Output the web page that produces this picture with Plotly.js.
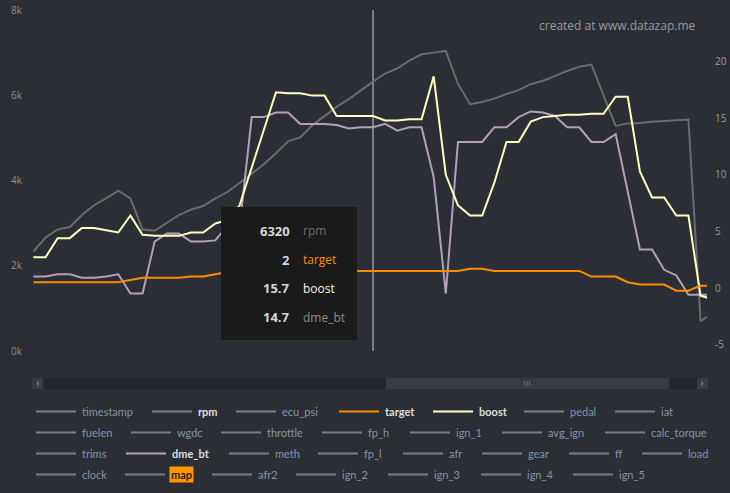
<!DOCTYPE html>
<html>
<head>
<meta charset="utf-8">
<script src="https://cdn.plot.ly/plotly-3.0.1.min.js"></script>
<style>
  html, body { margin: 0; padding: 0; background: #2c2e35; }
  #chart { width: 730px; height: 493px; }
</style>
</head>
<body>
<div id="chart"></div>
<script>
// Log samples (one per logged row)
const sampleTime = [0,1,2,3,4,5,6,7,8,9,10,11,12,13,14,15,16,17,18,19,20,21,22,23,24,25,26,27,28,
  29,30,31,32,33,34,35,36,37,38,39,40,41,42,43,44,45,46,47,48,49,50,51,52,53,54,55,56];

// Engine speed (left axis)
const rpm = [2330,2660,2850,2910,3190,3420,3580,3760,3580,2850,2820,3010,3190,3320,3400,3580,3730,3940,4150,4380,
  4640,4920,5010,5300,5510,5730,5910,6120,6320,6510,6630,6810,6960,7000,7040,6270,5790,5840,5920,6030,
  6120,6260,6340,6450,6570,6670,6720,6000,5280,5340,5350,5380,5400,5420,5430,700,890];

// Pressures (right axis, psi)
const target = [1.0,1.0,1.0,1.0,1.0,1.0,1.0,1.0,1.2,1.4,1.4,1.4,1.4,1.5,1.5,1.7,1.9,2.0,2.0,2.0,
  2.0,2.0,2.0,2.0,2.0,2.0,2.0,2.0,2,2.0,2.0,2.0,2.0,2.0,2.0,2.0,2.2,2.2,2.0,2.0,
  2.0,2.0,2.0,2.0,2.0,2.0,1.5,1.5,1.5,1.0,0.8,0.8,0.8,0.25,0.25,0.7,0.7];
const boost = [3.2,3.2,4.9,4.9,5.8,5.8,5.6,5.4,6.9,5.2,5.1,5.1,5.1,5.4,5.4,6.2,6.5,7.8,11.1,14.5,
  17.8,17.7,17.7,17.5,17.5,15.7,15.7,15.7,15.7,15.3,15.3,15.4,15.4,19.2,10.5,7.8,6.9,6.9,9.8,13.4,
  13.4,15.2,15.6,15.7,15.8,15.8,15.9,15.9,17.4,17.4,10.8,8.5,8.5,6.9,6.9,-0.2,-0.5];
const dme_bt = [1.5,1.5,1.7,1.7,1.4,1.4,1.5,1.7,0,0,4.6,5.3,5.3,4.6,4.6,4.7,6.0,5.9,15.6,15.6,
  16.0,16.0,15.0,15.0,15.0,14.9,14.6,14.7,14.7,15.0,14.4,14.7,14.7,10.3,0,13.4,13.4,13.4,14.7,14.7,
  15.6,16.1,16.0,15.7,14.7,14.7,13.4,13.4,14.1,8.9,3.9,3.9,2.1,1.6,-0.1,-0.1,-0.1];

// Axis ticks
const leftTickVals = [0, 2000, 4000, 6000, 8000];
const leftTickText = ['0k', '2k', '4k', '6k', '8k'];
const rightTickVals = [-5, 0, 5, 10, 15, 20];

// Legend entries, row by row
const legendRows = [
  ['timestamp','rpm','ecu_psi','target','boost','pedal','iat'],
  ['fuelen','wgdc','throttle','fp_h','ign_1','avg_ign','calc_torque'],
  ['trims','dme_bt','meth','fp_l','afr','gear','ff','load'],
  ['clock','map','afr2','ign_2','ign_3','ign_4','ign_5']
];

// Crosshair sample
const hoverIndex = 28;

// ---- styling / layout ----
const BG = '#2c2e35';
const colors = { rpm: '#6c6c6c', target: '#ff8c00', boost: '#ffffc4', dme_bt: '#b59fba' };
const FONT = 'Open Sans, Noto Sans, sans-serif';
const LEGEND_FONT = 'Lato, Open Sans, sans-serif';

const W = 730, H = 493;
const L = 33, R = 707, T = 10, B = 351;
const px = x => (x - L) / (R - L);
const py = y => (B - y) / (B - T);

// right axis: labels sit a few pixels above their value
const rightRange = [-5.08, 25.07];
const rightLabelLift = 5.5 * (rightRange[1] - rightRange[0]) / (B - T);

const legendStarts = [
  [36,152,236,339,433,524,615],
  [36,131,221,322,410,502,605],
  [36,126,229,318,403,482,569,642],
  [36,125,212,296,388,481,573]
];
const legendRowY = [411.5, 432.5, 453.5, 474.5];

const traces = [
  { name: 'rpm', x: sampleTime, y: rpm, yaxis: 'y', mode: 'lines',
    line: { color: colors.rpm, width: 2 } },
  { name: 'dme_bt', x: sampleTime, y: dme_bt, yaxis: 'y2', mode: 'lines',
    line: { color: colors.dme_bt, width: 2 } },
  { name: 'boost', x: sampleTime, y: boost, yaxis: 'y2', mode: 'lines',
    line: { color: colors.boost, width: 2 } },
  { name: 'target', x: sampleTime, y: target, yaxis: 'y2', mode: 'lines',
    line: { color: colors.target, width: 2 } }
];

const shapes = [];
const annotations = [];

// crosshair
shapes.push({ type: 'line', xref: 'x', yref: 'paper', x0: sampleTime[hoverIndex], x1: sampleTime[hoverIndex],
  y0: 0, y1: 1, line: { color: '#cfcfcf', width: 1 }, layer: 'below' });

// tooltip
shapes.push({ type: 'rect', xref: 'paper', yref: 'paper', x0: px(221), x1: px(357), y0: py(340), y1: py(207),
  fillcolor: '#1a1a1a', line: { width: 0 }, layer: 'above' });
const tipRows = [
  { label: 'rpm', value: rpm[hoverIndex], color: '#6f6f6f' },
  { label: 'target', value: target[hoverIndex], color: colors.target },
  { label: 'boost', value: boost[hoverIndex], color: '#f4f4e4' },
  { label: 'dme_bt', value: dme_bt[hoverIndex], color: '#8d8d8d' }
];
const tipY = [230.7, 259.5, 288.3, 317];
tipRows.forEach((r, i) => {
  annotations.push({ xref: 'paper', yref: 'paper', x: px(292), y: py(tipY[i]), xanchor: 'right', yanchor: 'middle',
    text: '<b>' + String(r.value) + '</b>', showarrow: false,
    font: { family: FONT, size: 13, color: '#d6d6d6' } });
  annotations.push({ xref: 'paper', yref: 'paper', x: px(301), y: py(tipY[i]), xanchor: 'left', yanchor: 'middle',
    text: r.label, showarrow: false, font: { family: FONT, size: 12, color: r.color } });
});

// watermark
annotations.push({ xref: 'paper', yref: 'paper', x: px(617), y: py(25.5), xanchor: 'center', yanchor: 'middle',
  text: 'created at www.datazap.me', showarrow: false, font: { family: FONT, size: 12, color: '#9a9a9a' } });

// scrollbar
const sbTop = 378, sbBot = 389;
const rect = (x0, x1, fill) => ({ type: 'rect', xref: 'paper', yref: 'paper', x0: px(x0), x1: px(x1),
  y0: py(sbBot), y1: py(sbTop), fillcolor: fill, line: { width: 0 }, layer: 'above' });
shapes.push(rect(32, 708, '#26272c'));
shapes.push(rect(32, 43, '#3a3c42'));
shapes.push(rect(386, 669, '#393b41'));
shapes.push(rect(697, 708, '#3a3c42'));
const tri = (pts) => ({ type: 'path', xref: 'paper', yref: 'paper', fillcolor: '#6c6e74', line: { width: 0 },
  layer: 'above', path: 'M' + pts.map(p => px(p[0]) + ',' + py(p[1])).join(' L') + ' Z' });
shapes.push(tri([[39, 380.5], [39, 386.5], [36, 383.5]]));
shapes.push(tri([[701, 380.5], [701, 386.5], [704, 383.5]]));
[524.5, 527, 529.5].forEach(x => shapes.push({ type: 'line', xref: 'paper', yref: 'paper',
  x0: px(x), x1: px(x), y0: py(381), y1: py(386), line: { color: '#6c6e74', width: 1 }, layer: 'above' }));

// legend
legendRows.forEach((row, r) => {
  row.forEach((name, k) => {
    const x0 = legendStarts[r][k];
    const y = legendRowY[r];
    const active = colors.hasOwnProperty(name);
    const lineColor = active && name !== 'rpm' ? colors[name] : '#7b7e84';
    shapes.push({ type: 'line', xref: 'paper', yref: 'paper', x0: px(x0), x1: px(x0 + 40), y0: py(y), y1: py(y),
      line: { color: lineColor, width: 2 }, layer: 'above' });
    const ann = { xref: 'paper', yref: 'paper', x: px(x0 + 44), y: py(y), xanchor: 'left', yanchor: 'middle',
      showarrow: false, text: active ? '<b>' + name + '</b>' : name,
      font: { family: LEGEND_FONT, size: 11, color: active ? '#dedede' : '#8493a8' } };
    if (name === 'map') {
      ann.text = '<b>map</b>';
      ann.bgcolor = '#ff9600';
      ann.borderpad = 1;
      ann.font.color = '#1d1d1d';
    }
    annotations.push(ann);
  });
});

const layout = {
  width: W, height: H,
  margin: { l: L, r: W - R, t: T, b: H - B, pad: 0 },
  paper_bgcolor: BG, plot_bgcolor: BG,
  showlegend: false,
  hovermode: false,
  xaxis: { range: [-0.03, 55.53], showgrid: false, zeroline: false, showticklabels: false, showline: false, ticks: '' },
  yaxis: { range: [0, 8000], tickvals: leftTickVals, ticktext: leftTickText, showgrid: false, zeroline: false,
    showline: false, ticks: '', ticklabelstandoff: 10, tickfont: { family: FONT, size: 10, color: '#8e8e8e' } },
  yaxis2: { overlaying: 'y', side: 'right', range: rightRange,
    tickvals: rightTickVals.map(v => v + rightLabelLift), ticktext: rightTickVals.map(String),
    showgrid: false, zeroline: false, showline: false, ticks: '', ticklabelstandoff: 7,
    tickfont: { family: FONT, size: 10, color: '#9a9a9a' } },
  shapes: shapes,
  annotations: annotations
};

Plotly.newPlot('chart', traces, layout, { staticPlot: true, displayModeBar: false });
</script>
</body>
</html>
